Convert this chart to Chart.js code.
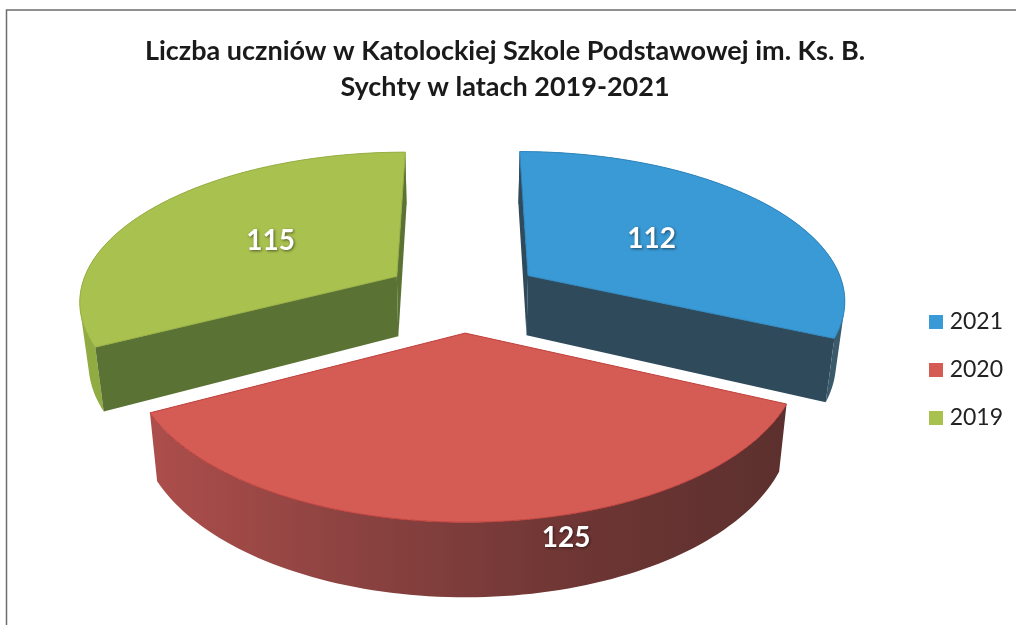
<!DOCTYPE html>
<html lang="pl">
<head>
<meta charset="utf-8">
<title>Liczba uczniów</title>
<script src="https://cdn.jsdelivr.net/npm/chart.js@4"></script>
<style>
html,body{margin:0;padding:0;background:#fff}
#wrap{width:1016px;height:625px;position:relative}
canvas{display:block}
</style>
</head>
<body>
<div id="wrap"><canvas id="c" width="1016" height="625"></canvas></div>
<script>
const categories = ['2021', '2020', '2019'];
const values = [112, 125, 115];
const titleLines = ['Liczba uczniów w Katolockiej Szkole Podstawowej im. Ks. B.', 'Sychty w latach 2019-2021'];
const topColors = ['#3a9ad6', '#d45c55', '#a9c24f'];
const cutColors = ['#2f4b5b', '#7a3a38', '#5a7334'];
const wallColors = [['#2f4a59', '#3b5b6c'], ['#ad4e4b', '#8a4240', '#6e3634', '#5c302e'], ['#8fab42', '#9ab548']];
const edgeColors = ['#2f86bd', '#c0403c', '#97ad45'];

// View of the 3D pie: perspective ground plane, unit radius
const VIEW = {cx: 463, cy: 295, sx: 318, sy: 148, persp: 0.15, height: 61, baseShrink: 0.977, explode: 0.248};
const labelShift = [[0, 0], [96, 118], [0, 0]];

function project(X, Y, base) {
  const d = 1 - VIEW.persp * Y;
  const k = base ? VIEW.baseShrink : 1;
  return {
    x: VIEW.cx + k * VIEW.sx * X / d,
    y: VIEW.cy + VIEW.sy * Y / d + (base ? VIEW.height / d : 0)
  };
}
function sliceOrigin(a0, a1) {
  const m = (a0 + a1) / 2;
  return [VIEW.explode * Math.cos(m), VIEW.explode * Math.sin(m)];
}
function poly(ctx, pts) {
  ctx.beginPath();
  pts.forEach((p, i) => i ? ctx.lineTo(p.x, p.y) : ctx.moveTo(p.x, p.y));
  ctx.closePath();
}
function area(pts) {
  let a = 0;
  pts.forEach((p, i) => {
    const q = pts[(i + 1) % pts.length];
    a += p.x * q.y - q.x * p.y;
  });
  return a;
}
Chart.ArcElement.prototype.draw = function (ctx) {
  const a0 = this.startAngle, a1 = this.endAngle;
  const i = this.$context ? this.$context.dataIndex : 0;
  const [ox, oy] = sliceOrigin(a0, a1);
  const rim = [], rimBase = [];
  const n = 90;
  for (let s = 0; s <= n; s++) {
    const a = a0 + (a1 - a0) * s / n;
    const X = ox + Math.cos(a), Y = oy + Math.sin(a);
    rim.push(project(X, Y, false));
    rimBase.push(project(X, Y, true));
  }
  const apex = project(ox, oy, false), apexBase = project(ox, oy, true);
  ctx.save();
  ctx.lineJoin = 'round';
  // outer wall: the sweep of all strips, wound the same way and filled once
  const xs = rim.map(p => p.x);
  const g = ctx.createLinearGradient(Math.min(...xs), 0, Math.max(...xs), 0);
  wallColors[i].forEach((c, k, arr) => g.addColorStop(k / (arr.length - 1), c));
  ctx.beginPath();
  for (let s = 0; s < n; s++) {
    let q = [rim[s], rim[s + 1], rimBase[s + 1], rimBase[s]];
    if (area(q) < 0) q = q.reverse();
    q.forEach((p, k) => k ? ctx.lineTo(p.x, p.y) : ctx.moveTo(p.x, p.y));
    ctx.closePath();
  }
  ctx.fillStyle = g;
  ctx.fill('nonzero');
  // cut faces that look towards the viewer
  if (-Math.cos(a0) > -1e-3) {
    poly(ctx, [apex, rim[0], rimBase[0], apexBase]);
    ctx.fillStyle = cutColors[i];
    ctx.fill();
  }
  if (Math.cos(a1) > -1e-3) {
    poly(ctx, [apex, rim[n], rimBase[n], apexBase]);
    ctx.fillStyle = cutColors[i];
    ctx.fill();
  }
  // top
  poly(ctx, [apex].concat(rim));
  ctx.fillStyle = topColors[i];
  ctx.fill();
  ctx.strokeStyle = edgeColors[i];
  ctx.lineWidth = 1;
  ctx.stroke();
  ctx.restore();
};

function swatch(color) {
  const s = document.createElement('canvas');
  s.width = 14; s.height = 14;
  const c = s.getContext('2d');
  c.fillStyle = color;
  c.fillRect(0, 0, 14, 14);
  return s;
}

const labels3d = {
  id: 'labels3d',
  afterDatasetsDraw(chart) {
    const ctx = chart.ctx;
    chart.getDatasetMeta(0).data.forEach((arc, i) => {
      const [ox, oy] = sliceOrigin(arc.startAngle, arc.endAngle);
      const m = (arc.startAngle + arc.endAngle) / 2;
      const p = project(ox + 0.5 * Math.cos(m), oy + 0.5 * Math.sin(m), false);
      ctx.save();
      ctx.font = 'bold 28px Lato';
      ctx.fillStyle = '#fff';
      ctx.textAlign = 'center';
      ctx.textBaseline = 'middle';
      ctx.shadowColor = 'rgba(0,0,0,0.55)';
      ctx.shadowBlur = 3;
      ctx.shadowOffsetX = 1;
      ctx.shadowOffsetY = 1;
      ctx.fillText(String(values[i]), p.x + labelShift[i][0], p.y + labelShift[i][1]);
      ctx.restore();
    });
  }
};
const frame = {
  id: 'frame',
  beforeDraw(chart) {
    const ctx = chart.ctx;
    ctx.save();
    ctx.strokeStyle = '#6e6e6e';
    ctx.lineWidth = 1.5;
    ctx.beginPath();
    ctx.moveTo(6.5, 625);
    ctx.lineTo(6.5, 10);
    ctx.lineTo(1016, 10);
    ctx.stroke();
    ctx.restore();
  }
};

new Chart(document.getElementById('c'), {
  type: 'pie',
  data: {
    labels: categories,
    datasets: [{data: values, backgroundColor: topColors, borderWidth: 0}]
  },
  plugins: [frame, labels3d],
  options: {
    responsive: false,
    animation: false,
    layout: {padding: {left: -3, right: 3, top: 33, bottom: 171}},
    plugins: {
      tooltip: {enabled: false},
      title: {
        display: true,
        text: titleLines,
        color: '#1a1a1a',
        font: {family: 'Lato', size: 27, weight: 'bold', lineHeight: 1.33},
        padding: {top: 0, bottom: 10}
      },
      legend: {
        position: 'right',
        align: 'end',
        labels: {
          usePointStyle: true,
          pointStyleWidth: 5,
          boxHeight: 14,
          padding: 25,
          color: '#222',
          font: {family: 'Lato', size: 23},
          generateLabels: chart => categories.map((c, i) => ({
            text: c,
            fillStyle: topColors[i],
            strokeStyle: topColors[i],
            lineWidth: 0,
            pointStyle: swatch(topColors[i]),
            fontColor: '#222',
            hidden: false,
            index: i
          }))
        }
      }
    }
  }
});
</script>
</body>
</html>
